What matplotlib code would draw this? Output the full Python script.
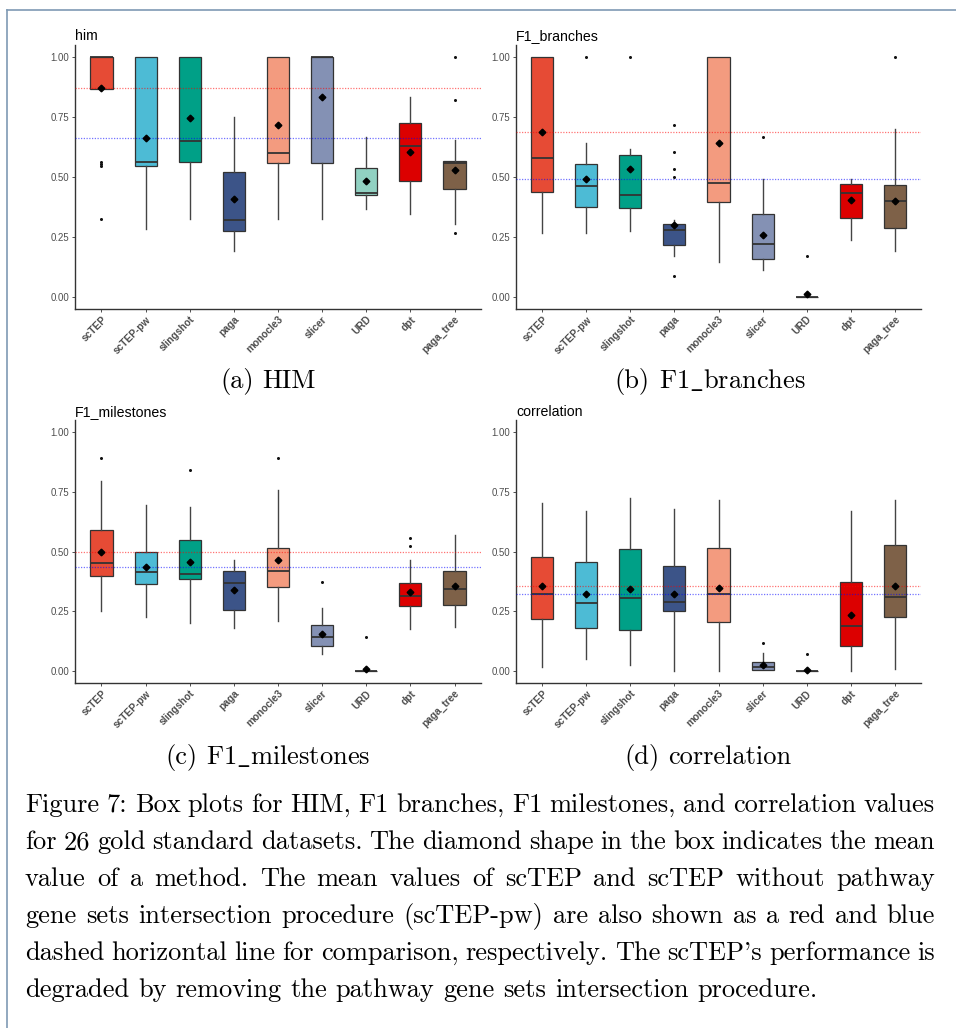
import matplotlib
matplotlib.use('Agg')
import matplotlib.pyplot as plt
from matplotlib.lines import Line2D

plt.rcParams['font.family'] = ['Liberation Sans', 'DejaVu Sans']
plt.rcParams['mathtext.fontset'] = 'cm'

# ---------------- data ----------------
methods = ["scTEP", "scTEP-pw", "slingshot", "paga", "monocle3",
           "slicer", "URD", "dpt", "paga_tree"]
colors = ["#E64B35", "#4DBBD5", "#00A087", "#3C5488", "#F39B7F",
          "#8491B4", "#91D1C2", "#DC0000", "#7E6148"]
y_ticks = [0.0, 0.25, 0.5, 0.75, 1.0]
y_ticklabels = ["0.00", "0.25", "0.50", "0.75", "1.00"]
titles = ["him", "F1_branches", "F1_milestones", "correlation"]
subcaptions = [r"(a) HIM", r"(b) F1$\_$branches",
               r"(c) F1$\_$milestones", r"(d) correlation"]

him_whislo = [0.869, 0.281, 0.323, 0.191, 0.323, 0.323, 0.368, 0.344, 0.302]
him_q1 = [0.869, 0.547, 0.563, 0.274, 0.557, 0.560, 0.423, 0.482, 0.450]
him_med = [1.0, 0.561, 0.652, 0.320, 0.599, 1.0, 0.435, 0.630, 0.560]
him_q3 = [1.0, 1.0, 1.0, 0.521, 1.0, 1.0, 0.539, 0.724, 0.568]
him_whishi = [1.0, 1.0, 1.0, 0.752, 1.0, 1.0, 0.666, 0.833, 0.655]
him_mean = [0.870, 0.664, 0.745, 0.408, 0.716, 0.833, 0.482, 0.604, 0.531]
him_out = [[0.564, 0.554, 0.547, 0.323], [], [], [], [], [], [], [],
           [1.0, 0.820, 0.265]]

br_whislo = [0.268, 0.268, 0.275, 0.169, 0.147, 0.112, 0.0, 0.235, 0.193]
br_q1 = [0.4385, 0.374, 0.370, 0.218, 0.397, 0.158, 0.0, 0.328, 0.286]
br_med = [0.580, 0.464, 0.423, 0.277, 0.476, 0.219, 0.0, 0.432, 0.399]
br_q3 = [1.0, 0.554, 0.591, 0.303, 1.0, 0.346, 0.0, 0.472, 0.466]
br_whishi = [1.0, 0.644, 0.616, 0.321, 1.0, 0.493, 0.0, 0.493, 0.701]
br_mean = [0.686, 0.493, 0.532, 0.299, 0.641, 0.257, 0.0098, 0.405, 0.398]
br_out = [[], [1.0], [1.0], [0.718, 0.606, 0.534, 0.499, 0.088], [],
          [0.665], [0.168], [], [1.0]]

ms_whislo = [0.251, 0.228, 0.200, 0.180, 0.209, 0.071, 0.0, 0.176, 0.186]
ms_q1 = [0.399, 0.365, 0.384, 0.256, 0.352, 0.103, 0.0, 0.274, 0.278]
ms_med = [0.451, 0.413, 0.406, 0.370, 0.418, 0.141, 0.0, 0.314, 0.342]
ms_q3 = [0.589, 0.500, 0.550, 0.420, 0.517, 0.193, 0.0, 0.369, 0.419]
ms_whishi = [0.797, 0.696, 0.689, 0.466, 0.758, 0.263, 0.0, 0.465, 0.570]
ms_mean = [0.500, 0.434, 0.455, 0.341, 0.464, 0.156, 0.0098, 0.330, 0.356]
ms_out = [[0.892], [], [0.842], [], [0.892], [0.374], [0.144],
          [0.557, 0.524], []]

co_whislo = [0.018, 0.052, 0.025, 0.0, 0.0, 0.003, 0.0, 0.0, 0.010]
co_q1 = [0.218, 0.182, 0.170, 0.251, 0.204, 0.003, 0.0, 0.103, 0.228]
co_med = [0.324, 0.286, 0.306, 0.289, 0.321, 0.017, 0.0, 0.187, 0.311]
co_q3 = [0.478, 0.455, 0.513, 0.439, 0.517, 0.039, 0.0, 0.373, 0.529]
co_whishi = [0.705, 0.672, 0.726, 0.680, 0.716, 0.074, 0.0, 0.670, 0.716]
co_mean = [0.355, 0.323, 0.342, 0.321, 0.349, 0.025, 0.006, 0.233, 0.355]
co_out = [[], [], [], [], [], [0.119], [0.071], [], []]

caption_lines = [
    "Figure 7: Box plots for HIM, F1 branches, F1 milestones, and correlation values",
    "for 26 gold standard datasets. The diamond shape in the box indicates the mean",
    "value of a method. The mean values of scTEP and scTEP without pathway",
    "gene sets intersection procedure (scTEP-pw) are also shown as a red and blue",
    "dashed horizontal line for comparison, respectively. The scTEP's performance is",
    "degraded by removing the pathway gene sets intersection procedure.",
]

panels = [
    (him_whislo, him_q1, him_med, him_q3, him_whishi, him_mean, him_out),
    (br_whislo, br_q1, br_med, br_q3, br_whishi, br_mean, br_out),
    (ms_whislo, ms_q1, ms_med, ms_q3, ms_whishi, ms_mean, ms_out),
    (co_whislo, co_q1, co_med, co_q3, co_whishi, co_mean, co_out),
]

# ---------------- layout ----------------
W, H = 956, 1028
fig = plt.figure(figsize=(W / 100, H / 100), dpi=100)
fig.patch.set_facecolor('white')

# axes rectangles in pixels: left, top, right, bottom
rects = [(75, 45.3, 481, 308.7), (516, 45.3, 921, 308.7),
         (75, 420.4, 481, 682.9), (516, 420.4, 921, 682.9)]

edge = '#333333'
for (l, t, r, b), title, data in zip(rects, titles, panels):
    ax = fig.add_axes([l / W, 1 - b / H, (r - l) / W, (b - t) / H])
    wl, q1, md, q3, wh, mn, outs = data
    stats = []
    for i in range(len(methods)):
        stats.append(dict(whislo=wl[i], q1=q1[i], med=md[i], q3=q3[i],
                          whishi=wh[i], fliers=outs[i], label=methods[i]))
    pos = list(range(1, len(methods) + 1))
    bp = ax.bxp(stats, positions=pos, widths=0.5, patch_artist=True,
                showcaps=False, showfliers=True,
                boxprops=dict(edgecolor=edge, linewidth=0.9),
                medianprops=dict(color=edge, linewidth=1.3),
                whiskerprops=dict(color='#444444', linewidth=1.0),
                flierprops=dict(marker='o', markersize=2.2,
                                markerfacecolor='#111111',
                                markeredgecolor='none'))
    for patch, c in zip(bp['boxes'], colors):
        patch.set_facecolor(c)
        patch.set_zorder(2)
    ax.axhline(mn[0], color='red', lw=0.9, ls=(0, (1, 1.2)), alpha=0.55, zorder=3)
    ax.axhline(mn[1], color='blue', lw=0.9, ls=(0, (1, 1.2)), alpha=0.55, zorder=3)
    ax.plot(pos, mn, ls='none', marker='D', markersize=3.4,
            color='black', zorder=5)
    ax.set_xlim(0.4, 9.6)
    ax.set_ylim(-0.05, 1.05)
    ax.set_yticks(y_ticks)
    ax.set_yticklabels(y_ticklabels)
    ax.set_xticks(pos)
    ax.set_xticklabels(methods, rotation=45, ha='right', va='top',
                       rotation_mode='anchor', fontweight='bold',
                       fontsize=7.3)
    for s in ['top', 'right']:
        ax.spines[s].set_visible(False)
    for s in ['left', 'bottom']:
        ax.spines[s].set_color(edge)
        ax.spines[s].set_linewidth(1.0)
    ax.tick_params(axis='both', length=2.5, width=0.6, color=edge,
                   labelcolor='#4D4D4D', pad=1.5)
    ax.tick_params(axis='y', labelsize=6.9)
    ax.set_title(title, loc='left', fontsize=10.2, pad=3.5, color='black')

# page frame
fc = '#7F9AB4'
fig.add_artist(Line2D([7 / W, 1.0], [1 - 10 / H, 1 - 10 / H],
                      color=fc, lw=1.2, transform=fig.transFigure))
fig.add_artist(Line2D([7 / W, 7 / W], [0.0, 1 - 10 / H],
                      color=fc, lw=1.2, transform=fig.transFigure))

# ---------------- caption text (justified) ----------------
renderer = fig.canvas.get_renderer()
serif = 'cmr10'


def word_width(word, fs):
    t = fig.text(0, 0, word, fontsize=fs, family=serif)
    w = t.get_window_extent(renderer).width
    t.remove()
    return w


def space_px(fs):
    return 0.333 * fs * 100 / 72


fs0 = 16.0
last = caption_lines[-1].split()
nat = sum(word_width(w, fs0) for w in last) + (len(last) - 1) * space_px(fs0)
fs = fs0 * 792.0 / nat

x_left, x_right = 25.0, 935.0
baselines = [812, 849, 886, 923, 960, 997]
for k, (line, yb) in enumerate(zip(caption_lines, baselines)):
    words = line.split()
    widths = [word_width(w, fs) for w in words]
    if k < len(caption_lines) - 1:
        gap = (x_right - x_left - sum(widths)) / (len(words) - 1)
    else:
        gap = space_px(fs)
    x = x_left
    for w, wd in zip(words, widths):
        fig.text(x / W, 1 - yb / H, w, fontsize=fs, family=serif,
                 ha='left', va='baseline')
        x += wd + gap

# subcaptions
sub_pos = [(268, 388), (710, 388), (268, 764), (708, 764)]
for txt, (cx, yb) in zip(subcaptions, sub_pos):
    words = txt.split(' ')
    widths = [word_width(w, fs) for w in words]
    total = sum(widths) + space_px(fs) * (len(words) - 1)
    x = cx - total / 2
    for w, wd in zip(words, widths):
        fig.text(x / W, 1 - yb / H, w, fontsize=fs, family=serif,
                 ha='left', va='baseline')
        x += wd + space_px(fs)

fig.savefig('out.png', dpi=100, facecolor='white')
